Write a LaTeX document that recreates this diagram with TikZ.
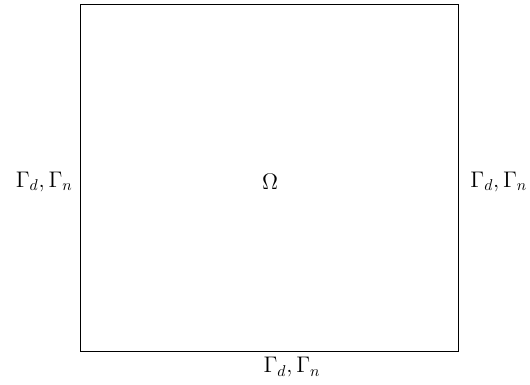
\documentclass[tikz,border=0pt]{standalone}
\usepackage{amsmath,amssymb}
\usetikzlibrary{positioning}

\begin{document}
\begin{tikzpicture}[x=0.0224cm, y=-0.0224cm,
  font=\fontsize{13.8}{16}\selectfont,
  bnd/.style={inner sep=2pt}]
\useasboundingbox (0,0) rectangle (530,385);
\draw (80,4) rectangle (458,351);
\node (omega) at (270,182) {$\Omega$};
\node[bnd, anchor=east] (left) at (76,182) {$\Gamma_d,\Gamma_n$};
\node[bnd, anchor=west] (right) at (467,182) {$\Gamma_d,\Gamma_n$};
\node[bnd, anchor=north] (bottom) at (292,354) {$\Gamma_d,\Gamma_n$};
\end{tikzpicture}
\end{document}
